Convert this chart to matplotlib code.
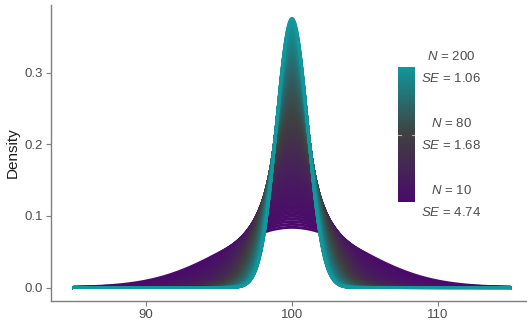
import numpy as np
import matplotlib
matplotlib.use("Agg")
import matplotlib.pyplot as plt
from matplotlib.colors import LinearSegmentedColormap, TwoSlopeNorm

# ---- data ----
pop_mean = 100
pop_sd = 15
sample_sizes = np.arange(10, 201)          # N = 10 ... 200
x_min, x_max = 85, 115
legend_N = [10, 80, 200]
legend_SE = ["4.74", "1.68", "1.06"]
x_ticks = [90, 100, 110]
y_ticks = [0.0, 0.1, 0.2, 0.3]

plt.rcParams['font.family'] = ['Liberation Sans', 'DejaVu Sans']
plt.rcParams['mathtext.fontset'] = 'custom'
plt.rcParams['mathtext.rm'] = 'Liberation Sans'
plt.rcParams['mathtext.it'] = 'Liberation Sans:italic'

W, H = 527, 322
fig = plt.figure(figsize=(W / 100, H / 100), dpi=100)

ax_l, ax_r, ax_t, ax_b = 51, 533, 5, 301
ax = fig.add_axes([ax_l / W, 1 - ax_b / H, (ax_r - ax_l) / W, (ax_b - ax_t) / H])

cmap = LinearSegmentedColormap.from_list(
    "pg", [(0.0, "#4B0A6C"), (0.5, "#404040"), (1.0, "#12979C")])
norm = TwoSlopeNorm(vmin=10, vcenter=80, vmax=200)

xs = np.linspace(x_min, x_max, 800)
for n in sample_sizes:
    se = pop_sd / np.sqrt(n)
    dens = np.exp(-0.5 * ((xs - pop_mean) / se) ** 2) / (se * np.sqrt(2 * np.pi))
    ax.plot(xs, dens, color=cmap(norm(n)), lw=2.1, solid_capstyle='butt')

ax.set_xlim(83.5, 116.5)
ax.set_ylim(-0.0188, 0.3948)
ax.set_xticks(x_ticks)
ax.set_yticks(y_ticks)
ax.set_yticklabels([f"{v:.1f}" for v in y_ticks])
for s in ['top', 'right']:
    ax.spines[s].set_visible(False)
for s in ['left', 'bottom']:
    ax.spines[s].set_color('#7f7f7f')
    ax.spines[s].set_linewidth(1.0)
ax.tick_params(colors='#7f7f7f', length=3.5, width=0.8, labelcolor='#4d4d4d',
               labelsize=9.5, pad=2)
ax.set_ylabel("Density", fontsize=11, color='#1a1a1a', labelpad=4)

# ---- colorbar legend ----
cb_l, cb_r, cb_t, cb_b = 398, 415, 67, 202
cax = fig.add_axes([cb_l / W, 1 - cb_b / H, (cb_r - cb_l) / W, (cb_b - cb_t) / H])
grad = np.linspace(0, 1, 256).reshape(-1, 1)
cax.imshow(grad, aspect='auto', cmap=cmap, origin='lower', extent=[0, 1, 0, 1])
cax.set_xlim(0, 1)
cax.set_ylim(0, 1)
cax.axis('off')
for n in legend_N:
    p = norm(n)
    if 0 < p < 1:
        cax.plot([0, 0.2], [p, p], color='white', lw=0.8, alpha=0.6)
        cax.plot([0.8, 1], [p, p], color='white', lw=0.8, alpha=0.6)

for n, se in zip(legend_N, legend_SE):
    p = float(norm(n))
    ypix = cb_b - p * (cb_b - cb_t)
    fig.text(451 / W, 1 - (ypix - 11) / H, f"$N$ = {n}", ha='center', va='center',
             fontsize=9.5, color='#4d4d4d')
    fig.text(451 / W, 1 - (ypix + 11) / H, f"$SE$ = {se}", ha='center', va='center',
             fontsize=9.5, color='#4d4d4d')

fig.savefig("out.png", dpi=100)
